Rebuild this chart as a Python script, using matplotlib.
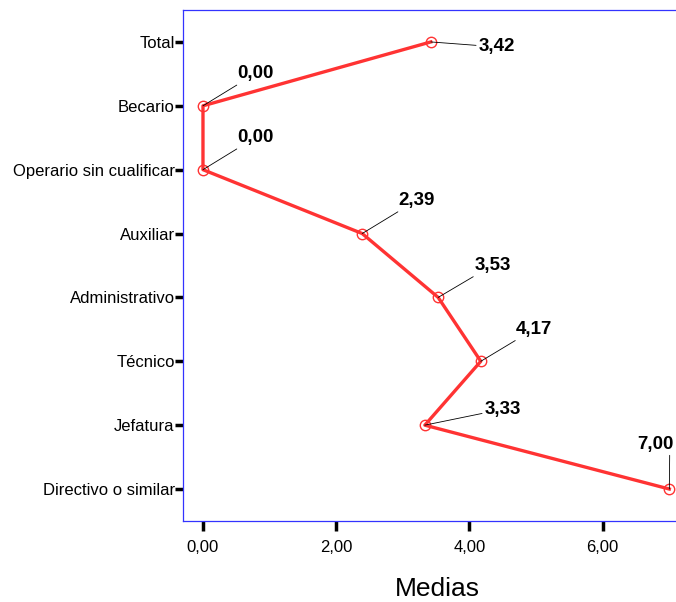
import matplotlib
matplotlib.use("Agg")
import matplotlib.pyplot as plt

plt.rcParams['font.family'] = ['Liberation Sans', 'DejaVu Sans']

categorias = ['Total', 'Becario', 'Operario sin cualificar', 'Auxiliar',
              'Administrativo', 'Técnico', 'Jefatura', 'Directivo o similar']
medias = [3.42, 0.00, 0.00, 2.39, 3.53, 4.17, 3.33, 7.00]
etiquetas = ['3,42', '0,00', '0,00', '2,39', '3,53', '4,17', '3,33', '7,00']
xticks = [0, 2, 4, 6]
xtick_labels = ['0,00', '2,00', '4,00', '6,00']

# offsets (pixels) for the value labels
offsets = [(48, -5), (34, 32), (34, 32), (36, 33), (36, 32), (35, 32), (60, 16), (4, 45)]

fig = plt.figure(figsize=(6.76, 6.02), dpi=100)
ax = fig.add_axes([0.2707, 0.1346, 0.7293, 0.8488])

y = list(range(len(categorias)))
ax.plot(medias, y, color='#ff3333', lw=2.4, marker='o', markersize=7.5,
        markerfacecolor='none', markeredgecolor='#ff3333', markeredgewidth=1.0,
        clip_on=False, zorder=3)

for xi, yi, lab, off in zip(medias, y, etiquetas, offsets):
    ha = 'right' if off[0] < 10 else 'left'
    arrow = dict(arrowstyle='-', color='black', lw=0.6, shrinkA=0, shrinkB=0)
    if ha == 'right':
        arrow['relpos'] = (0.9, 0.0)
    ax.annotate(lab, xy=(xi, yi), xytext=off, textcoords='offset pixels',
                fontsize=13.5, fontweight='bold', ha=ha, va='center',
                arrowprops=arrow, annotation_clip=False, zorder=4)

ax.set_xlim(-0.3, 7.1)
ax.set_ylim(7.5, -0.5)
ax.set_yticks(y)
ax.set_yticklabels(categorias, fontsize=12)
ax.set_xticks(xticks)
ax.set_xticklabels(xtick_labels, fontsize=12)
ax.tick_params(axis='y', direction='out', length=6, width=2.5, color='black', pad=0)
ax.tick_params(axis='x', direction='out', length=7.5, width=2.5, color='black', pad=6)

for side in ['left', 'top', 'bottom']:
    ax.spines[side].set_color('#3333ff')
    ax.spines[side].set_linewidth(0.9)
ax.spines['right'].set_visible(False)

fig.text(437 / 676, 1 - 589 / 602, 'Medias', fontsize=19, ha='center', va='center')

fig.savefig('out.png', dpi=100)
